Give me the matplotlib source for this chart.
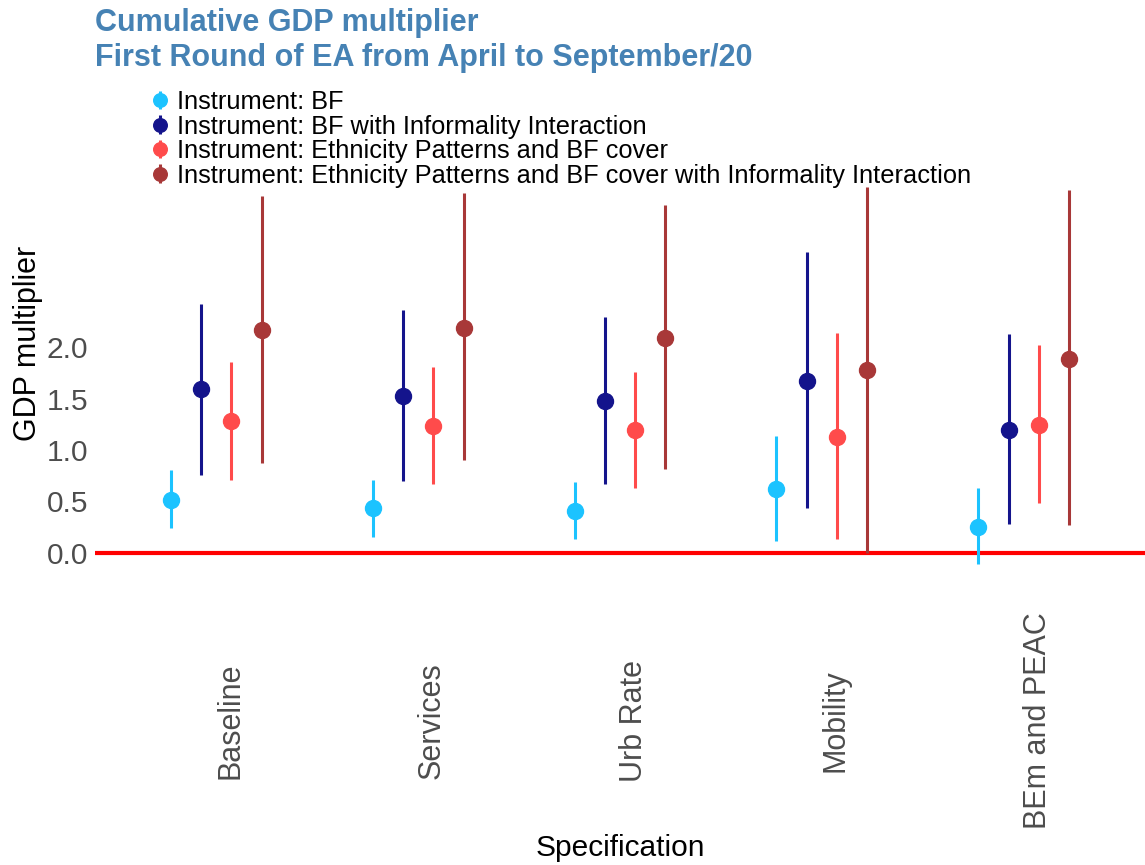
import numpy as np
import matplotlib
matplotlib.use("Agg")
import matplotlib.pyplot as plt
import matplotlib.transforms as mtransforms
from matplotlib.container import ErrorbarContainer
from matplotlib.legend_handler import HandlerErrorbar

plt.rcParams['font.family'] = ['Liberation Sans', 'DejaVu Sans']

# --- Data ---
specs = ["Baseline", "Services", "Urb Rate", "Mobility", "BEm and PEAC"]
instruments = ["Instrument: BF",
               "Instrument: BF with Informality Interaction",
               "Instrument: Ethnicity Patterns and BF cover",
               "Instrument: Ethnicity Patterns and BF cover with Informality Interaction"]

bf_est = [0.51, 0.43, 0.40, 0.62, 0.25]
bf_lo  = [0.235, 0.154, 0.13, 0.115, -0.115]
bf_hi  = [0.80, 0.71, 0.69, 1.135, 0.625]

bfi_est = [1.59, 1.53, 1.476, 1.67, 1.19]
bfi_lo  = [0.76, 0.70, 0.665, 0.43, 0.275]
bfi_hi  = [2.42, 2.36, 2.30, 2.93, 2.13]

ep_est = [1.28, 1.236, 1.19, 1.13, 1.24]
ep_lo  = [0.71, 0.665, 0.625, 0.135, 0.48]
ep_hi  = [1.86, 1.81, 1.76, 2.14, 2.02]

epi_est = [2.17, 2.19, 2.09, 1.78, 1.89]
epi_lo  = [0.875, 0.90, 0.81, 0.0, 0.265]
epi_hi  = [3.47, 3.50, 3.39, 3.56, 3.53]

y_ticks = [0.0, 0.5, 1.0, 1.5, 2.0]
colors = ["#1CC3FF", "#14148C", "#FF4B4B", "#A83838"]

# --- Figure ---
fig = plt.figure(figsize=(11.45, 8.65), dpi=100)
W, H = 1145, 865
ax = fig.add_axes([95 / W, 1 - 583 / H, 1050 / W, (583 - 169) / H])

x = np.arange(1, len(specs) + 1)
offsets = [-0.225, -0.075, 0.075, 0.225]
series = [(bf_est, bf_lo, bf_hi), (bfi_est, bfi_lo, bfi_hi),
          (ep_est, ep_lo, ep_hi), (epi_est, epi_lo, epi_hi)]

ax.axhline(0, color="red", lw=3, zorder=1)

handles = []
for (est, lo, hi), off, col, lab in zip(series, offsets, colors, instruments):
    est = np.array(est); lo = np.array(lo); hi = np.array(hi)
    h = ax.errorbar(x + off, est, yerr=[est - lo, hi - est], fmt='o', color=col,
                    ms=11.5, elinewidth=2.2, capsize=0, label=lab, zorder=3)
    handles.append(h)

ax.set_xlim(0.4, 5.6)
ax.set_ylim(-0.297, 3.738)
ax.set_yticks(y_ticks)
ax.set_yticklabels([f"{v:.1f}" for v in y_ticks])
ax.set_xticks(x)
ax.set_xticklabels(specs, rotation=90, va="center", ha="center")
ax.tick_params(axis="x", length=0, pad=99, labelsize=22, labelcolor="#4D4D4D")
ax.tick_params(axis="y", length=0, pad=5, labelsize=21.5, labelcolor="#4D4D4D")
shift = mtransforms.ScaledTranslation(14 / 100, 0, fig.dpi_scale_trans)
for lbl in ax.get_xticklabels():
    lbl.set_transform(lbl.get_transform() + shift)
for s in ax.spines.values():
    s.set_visible(False)

ax.set_xlabel("Specification", fontsize=21.5)
ax.xaxis.set_label_coords(0.5, -(848 - 583) / 414)
ax.xaxis.label.set_va("center")
ax.set_ylabel("GDP multiplier", fontsize=22)
ax.yaxis.set_label_coords((28 - 95) / 1050, (583 - 343.5) / 414)
ax.yaxis.label.set_va("center")

# --- Title ---
fig.text(95 / W, 1 - 23 / H, "Cumulative GDP multiplier", fontsize=22,
         fontweight="bold", color="#4682B4", va="center", ha="left")
fig.text(95 / W, 1 - 58 / H, "First Round of EA from April to September/20", fontsize=22,
         fontweight="bold", color="#4682B4", va="center", ha="left")

# --- Legend ---
fig.legend(handles=handles, labels=instruments, loc="upper left",
           bbox_to_anchor=(152 / W, 1 - 90 / H), frameon=False, fontsize=18.3,
           handlelength=0.6, handletextpad=0.4, labelspacing=0.02,
           borderpad=0, borderaxespad=0, markerscale=0.85,
           handler_map={ErrorbarContainer: HandlerErrorbar(xerr_size=0.36)})

fig.savefig("out.png", dpi=100)
